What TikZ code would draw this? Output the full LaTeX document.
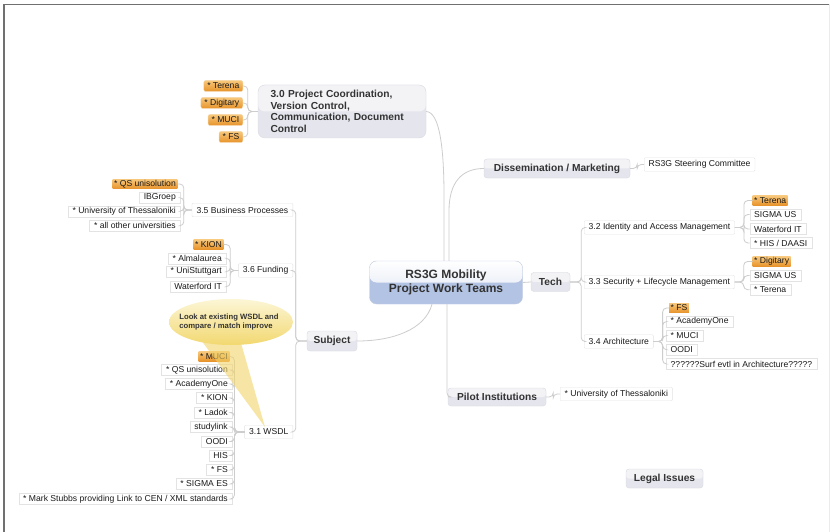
\documentclass[tikz,border=0pt]{standalone}
\usepackage{fontspec}
\setmainfont{Liberation Sans}
\usetikzlibrary{calc}
\definecolor{lineC}{HTML}{CDCDCD}
\definecolor{leafB}{HTML}{E3E3E3}
\definecolor{txt}{HTML}{1A1A1A}
\definecolor{topicF}{HTML}{E5E6ED}
\definecolor{topicTop}{HTML}{F3F3F6}
\definecolor{topicB}{HTML}{DADBE2}
\definecolor{topicT}{HTML}{333333}
\definecolor{ctrBot}{HTML}{B3C3E3}
\definecolor{ctrTop}{HTML}{DCE3F1}
\definecolor{ctrB}{HTML}{C5CEE0}
\definecolor{hlTop}{HTML}{F7C77A}
\definecolor{hlBot}{HTML}{E8932A}
\definecolor{pillB}{HTML}{F2D3A4}
\definecolor{callTop}{HTML}{FCF6D6}
\definecolor{callBot}{HTML}{F2D870}
\definecolor{tailC}{HTML}{F2D46A}
\definecolor{frameC}{HTML}{707070}
\tikzset{
  mmconn/.style={draw=lineC, line width=0.8pt, rounded corners=4pt},
  mmtopic/.style={draw=topicB, fill=topicF, rounded corners=3pt, inner sep=0pt,
    font=\fontsize{10.2}{12}\selectfont\bfseries, text=topicT,
    path picture={\fill[topicTop] (path picture bounding box.north west) rectangle (path picture bounding box.east);}},
  mmsub/.style={draw=leafB, fill=white, rounded corners=1pt, inner xsep=4.5pt, inner ysep=0pt,
    minimum height=13.5pt, font=\fontsize{8.6}{10}\selectfont, text=txt},
  lsub/.style={mmsub, anchor=east},
  rsub/.style={mmsub, anchor=west},
  mmleaf/.style={draw=leafB, fill=white, inner xsep=4.5pt, inner ysep=0pt, minimum height=11pt,
    font=\fontsize{8.6}{10}\selectfont, text=txt},
  lleaf/.style={mmleaf, anchor=east, xshift=4.5pt},
  rleaf/.style={mmleaf, anchor=west, xshift=-4.5pt},
  mmhl/.style={top color=hlTop, bottom color=hlBot, inner xsep=1.5pt, inner ysep=0pt,
    minimum height=9.5pt, font=\fontsize{8.6}{10}\selectfont, text=txt},
  lhl/.style={mmhl, anchor=east, xshift=1.5pt},
  rhl/.style={mmhl, anchor=west, xshift=-1.5pt},
  mmpill/.style={top color=hlTop, bottom color=hlBot, draw=pillB, rounded corners=2pt,
    inner xsep=3.5pt, inner ysep=0pt, minimum height=11pt, anchor=east,
    font=\fontsize{8.6}{10}\selectfont, text=txt}
}
\begin{document}
\begin{tikzpicture}[x=1pt,y=-1pt]
\useasboundingbox (0,0) rectangle (830,532);
\fill[white] (0,0) rectangle (830,532);
% frame
\draw[frameC, line width=1.5pt] (4,532) -- (4,4.5) -- (830,4.5);
\draw[black!8, line width=1pt] (829,4.5) -- (829,532);

% central
\node[draw=ctrB, fill=ctrBot, rounded corners=7pt, minimum width=153pt, minimum height=43pt,
  inner sep=0pt, align=center, font=\fontsize{12}{14}\selectfont\bfseries, text=topicT,
  path picture={\shade[top color=white, bottom color=ctrTop] (path picture bounding box.north west) rectangle (path picture bounding box.east);}]
  (ctr) at (446,282.5) {RS3G Mobility\\Project Work Teams};

% main topics
\node[mmtopic, minimum width=39pt, minimum height=19pt] (tech) at (550.5,282) {Tech};
\node[mmtopic, minimum width=50pt, minimum height=20pt] (subj) at (332,341) {Subject};
\node[mmtopic, minimum width=146pt, minimum height=19pt] (diss) at (557,168.5) {Dissemination / Marketing};
\node[mmtopic, minimum width=98pt, minimum height=18pt] (pilot) at (497,397) {Pilot Institutions};
\node[mmtopic, minimum width=77pt, minimum height=19pt] (legal) at (664.5,478.5) {Legal Issues};
\node[draw=topicB, fill=topicF, rounded corners=7pt, text width=143pt, inner xsep=12.5pt, inner ysep=0pt,
  minimum height=53pt, align=left, font=\fontsize{10.2}{11.7}\selectfont\bfseries, text=topicT,
  path picture={\fill[topicTop] (path picture bounding box.north west) rectangle (path picture bounding box.east);}]
  (p30) at (342,111.5) {3.0 Project Coordination,\\Version Control,\\Communication, Document\\Control};

% 3.0 pills
\node[mmpill] (t0a) at (243,86) {* Terena};
\node[mmpill] (t0b) at (243,103) {* Digitary};
\node[mmpill] (t0c) at (243,120) {* MUCI};
\node[mmpill] (t0d) at (243,137) {* FS};

% sub topics
\node[rsub] (steer) at (644,164.5) {RS3G Steering Committee};
\node[rsub] (s32) at (584,227.5) {3.2 Identity and Access Management};
\node[rsub] (s33) at (584,282) {3.3 Security + Lifecycle Management};
\node[rsub] (s34) at (584,341.5) {3.4 Architecture};
\node[rsub] (uth) at (560,394) {* University of Thessaloniki};
\node[lsub] (s35) at (293,210) {3.5 Business Processes};
\node[lsub] (s36) at (293,270.5) {3.6 Funding};
\node[lsub] (s31) at (293,432) {3.1 WSDL};

% 3.2 leaves
\node[rhl] (a1) at (754,200.5) {* Terena};
\node[rleaf] (a2) at (754,214.5) {SIGMA US};
\node[rleaf] (a3) at (754,229) {Waterford IT};
\node[rleaf] (a4) at (754,243) {* HIS / DAASI};
% 3.3 leaves
\node[rhl] (b1) at (754,261.5) {* Digitary};
\node[rleaf] (b2) at (754,275.5) {SIGMA US};
\node[rleaf] (b3) at (754,289.7) {* Terena};
% 3.4 leaves
\node[rhl] (c1) at (670.5,308) {* FS};
\node[rleaf] (c2) at (670.5,321.5) {* AcademyOne};
\node[rleaf] (c3) at (670.5,335.5) {* MUCI};
\node[rleaf] (c4) at (670.5,349.7) {OODI};
\node[rleaf] (c5) at (670.5,364) {??????Surf evtl in Architecture?????};
% 3.5 leaves
\node[lhl] (d1) at (176,184) {* QS unisolution};
\node[lleaf] (d2) at (176,197.7) {IBGroep};
\node[lleaf] (d3) at (176,211.3) {* University of Thessaloniki};
\node[lleaf] (d4) at (176,225.7) {* all other universities};
% 3.6 leaves
\node[lhl] (e1) at (222,244.5) {* KION};
\node[lleaf] (e2) at (222,258.3) {* Almalaurea};
\node[lleaf] (e3) at (222,271.7) {* UniStuttgart};
\node[lleaf] (e4) at (222,286.7) {Waterford IT};
% 3.1 leaves
\node[lhl] (f1) at (228,356.5) {* MUCI};
\node[lleaf] (f2) at (228,370) {* QS unisolution};
\node[lleaf] (f3) at (228,384) {* AcademyOne};
\node[lleaf] (f4) at (228,398) {* KION};
\node[lleaf] (f5) at (228,412.5) {* Ladok};
\node[lleaf] (f6) at (228,427) {studylink};
\node[lleaf] (f7) at (228,441.5) {OODI};
\node[lleaf] (f8) at (228,455.5) {HIS};
\node[lleaf] (f9) at (228,470) {* FS};
\node[lleaf] (f10) at (228,484) {* SIGMA ES};
\node[lleaf] (f11) at (228,499) {* Mark Stubbs providing Link to CEN / XML standards};

% connectors from centre
\draw[mmconn] (ctr.east) -- (tech.west);
\draw[mmconn] ($(ctr.north)+(-2,0)$) -- (444,200) .. controls (444,150) and (440,112) .. (p30.east);
\draw[mmconn] ($(ctr.north)+(3,0)$) -- (449,215) .. controls (449,182) and (462,168.5) .. (diss.west);
\draw[mmconn] ($(ctr.south)+(-14,0)$) .. controls (425,330) and (392,341) .. (subj.east);
\draw[mmconn] ($(ctr.south)+(1,0)$) |- (pilot.west);

% topic -> sub
\foreach \k in {s32,s33,s34} \draw[mmconn] (tech.east) -- ++(11,0) |- (\k.west);
\foreach \k in {s35,s36,s31} \draw[mmconn] (subj.west) -- ++(-11,0) |- (\k.east);
\foreach \k in {t0a,t0b,t0c,t0d} \draw[mmconn] (p30.west) -- ++(-10,0) |- (\k.east);
\draw[mmconn] (diss.east) -- ++(7,0) |- (steer.west);
\draw[mmconn] (pilot.east) -- ++(7,0) |- (uth.west);

% sub -> leaves
\foreach \k in {a1,a2,a3,a4} \draw[mmconn] (s32.east) -- ++(9,0) |- (\k.west);
\foreach \k in {b1,b2,b3} \draw[mmconn] (s33.east) -- ++(9,0) |- (\k.west);
\foreach \k in {c1,c2,c3,c4,c5} \draw[mmconn] (s34.east) -- ++(9,0) |- (\k.west);
\foreach \k in {d1,d2,d3,d4} \draw[mmconn] (s35.west) -- ++(-8,0) |- (\k.east);
\foreach \k in {e1,e2,e3,e4} \draw[mmconn] (s36.west) -- ++(-8,0) |- (\k.east);
\foreach \k in {f1,f2,f3,f4,f5,f6,f7,f8,f9,f10,f11} \draw[mmconn] (s31.west) -- ++(-10,0) |- (\k.east);

% callout
\fill[tailC, opacity=0.6] (201,340) -- (265,427) -- (241,343) -- cycle;
\shade[top color=callTop, bottom color=callBot] (231,322) ellipse [x radius=62pt, y radius=23pt];
\node[font=\fontsize{7.7}{9}\selectfont\bfseries, align=left, text=topicT, inner sep=0pt]
  (note) at (229,322) {Look at existing WSDL and\\compare / match improve};
\end{tikzpicture}
\end{document}
